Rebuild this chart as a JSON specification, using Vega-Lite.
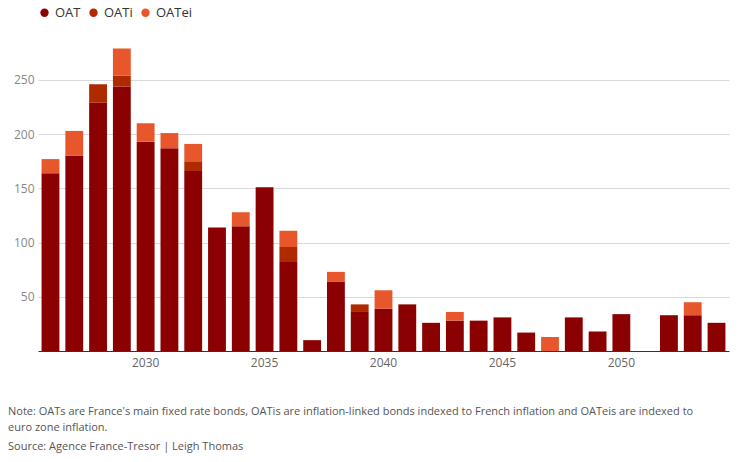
{
  "$schema": "https://vega.github.io/schema/vega-lite/v6.json",
  "width": 749,
  "height": 462,
  "autosize": {"type": "fit", "contains": "padding"},
  "padding": {"left": 8, "right": 20, "top": 6, "bottom": 10},
  "background": "white",
  "config": {"view": {"stroke": null}, "font": "Open Sans"},
  "title": {
    "text": ["Note: OATs are France's main fixed rate bonds, OATis are inflation-linked bonds indexed to French inflation and OATeis are indexed to", "euro zone inflation."],
    "subtitle": "Source: Agence France-Tresor | Leigh Thomas",
    "orient": "bottom",
    "anchor": "start",
    "frame": "group",
    "fontSize": 11,
    "lineHeight": 16,
    "fontWeight": "normal",
    "color": "#555555",
    "subtitleFontSize": 11,
    "subtitleColor": "#555555",
    "subtitlePadding": 8,
    "offset": 38,
    "dx": -30
  },
  "data": {
    "values": [
      {"year": 2026, "type": "OAT", "v": 164}, {"year": 2026, "type": "OATei", "v": 13},
      {"year": 2027, "type": "OAT", "v": 180}, {"year": 2027, "type": "OATei", "v": 23},
      {"year": 2028, "type": "OAT", "v": 229}, {"year": 2028, "type": "OATi", "v": 17},
      {"year": 2029, "type": "OAT", "v": 244}, {"year": 2029, "type": "OATi", "v": 10}, {"year": 2029, "type": "OATei", "v": 25},
      {"year": 2030, "type": "OAT", "v": 193}, {"year": 2030, "type": "OATei", "v": 17},
      {"year": 2031, "type": "OAT", "v": 187}, {"year": 2031, "type": "OATei", "v": 14},
      {"year": 2032, "type": "OAT", "v": 166}, {"year": 2032, "type": "OATi", "v": 9}, {"year": 2032, "type": "OATei", "v": 16},
      {"year": 2033, "type": "OAT", "v": 114},
      {"year": 2034, "type": "OAT", "v": 115}, {"year": 2034, "type": "OATei", "v": 13},
      {"year": 2035, "type": "OAT", "v": 151},
      {"year": 2036, "type": "OAT", "v": 82}, {"year": 2036, "type": "OATi", "v": 14}, {"year": 2036, "type": "OATei", "v": 15},
      {"year": 2037, "type": "OAT", "v": 10},
      {"year": 2038, "type": "OAT", "v": 64}, {"year": 2038, "type": "OATei", "v": 9},
      {"year": 2039, "type": "OAT", "v": 36}, {"year": 2039, "type": "OATi", "v": 7},
      {"year": 2040, "type": "OAT", "v": 39}, {"year": 2040, "type": "OATei", "v": 17},
      {"year": 2041, "type": "OAT", "v": 43},
      {"year": 2042, "type": "OAT", "v": 26},
      {"year": 2043, "type": "OAT", "v": 28}, {"year": 2043, "type": "OATei", "v": 8},
      {"year": 2044, "type": "OAT", "v": 28},
      {"year": 2045, "type": "OAT", "v": 31},
      {"year": 2046, "type": "OAT", "v": 17},
      {"year": 2047, "type": "OATei", "v": 13},
      {"year": 2048, "type": "OAT", "v": 31},
      {"year": 2049, "type": "OAT", "v": 18},
      {"year": 2050, "type": "OAT", "v": 34},
      {"year": 2052, "type": "OAT", "v": 33},
      {"year": 2053, "type": "OAT", "v": 33}, {"year": 2053, "type": "OATei", "v": 12},
      {"year": 2054, "type": "OAT", "v": 26}
    ]
  },
  "transform": [
    {"calculate": "datum.type == 'OAT' ? 0 : datum.type == 'OATi' ? 1 : 2", "as": "ord"}
  ],
  "mark": {"type": "bar"},
  "encoding": {
    "x": {
      "field": "year",
      "type": "ordinal",
      "scale": {"domain": [2026, 2027, 2028, 2029, 2030, 2031, 2032, 2033, 2034, 2035, 2036, 2037, 2038, 2039, 2040, 2041, 2042, 2043, 2044, 2045, 2046, 2047, 2048, 2049, 2050, 2051, 2052, 2053, 2054], "paddingInner": 0.25, "paddingOuter": 0.15},
      "axis": {
        "title": null,
        "labelAngle": 0,
        "labelExpr": "datum.value % 5 == 0 ? datum.value : ''",
        "labelColor": "#666666",
        "labelFontSize": 12,
        "domainColor": "#333333",
        "ticks": false,
        "labelPadding": 6
      }
    },
    "y": {
      "field": "v",
      "type": "quantitative",
      "aggregate": "sum",
      "scale": {"domain": [0, 285]},
      "axis": {
        "title": null,
        "values": [50, 100, 150, 200, 250],
        "domain": false,
        "ticks": false,
        "labelColor": "#888888",
        "labelFontSize": 12,
        "gridColor": "#d9d9d9",
        "labelPadding": 4
      }
    },
    "color": {
      "field": "type",
      "type": "nominal",
      "scale": {"domain": ["OAT", "OATi", "OATei"], "range": ["#8b0000", "#b02a00", "#e8572c"]},
      "legend": {
        "title": null,
        "orient": "top",
        "direction": "horizontal",
        "symbolType": "circle",
        "symbolSize": 70,
        "labelFontSize": 13,
        "labelColor": "#333333",
        "columnPadding": 6,
        "offset": 22
      }
    },
    "order": {"field": "ord", "type": "quantitative"}
  }
}
